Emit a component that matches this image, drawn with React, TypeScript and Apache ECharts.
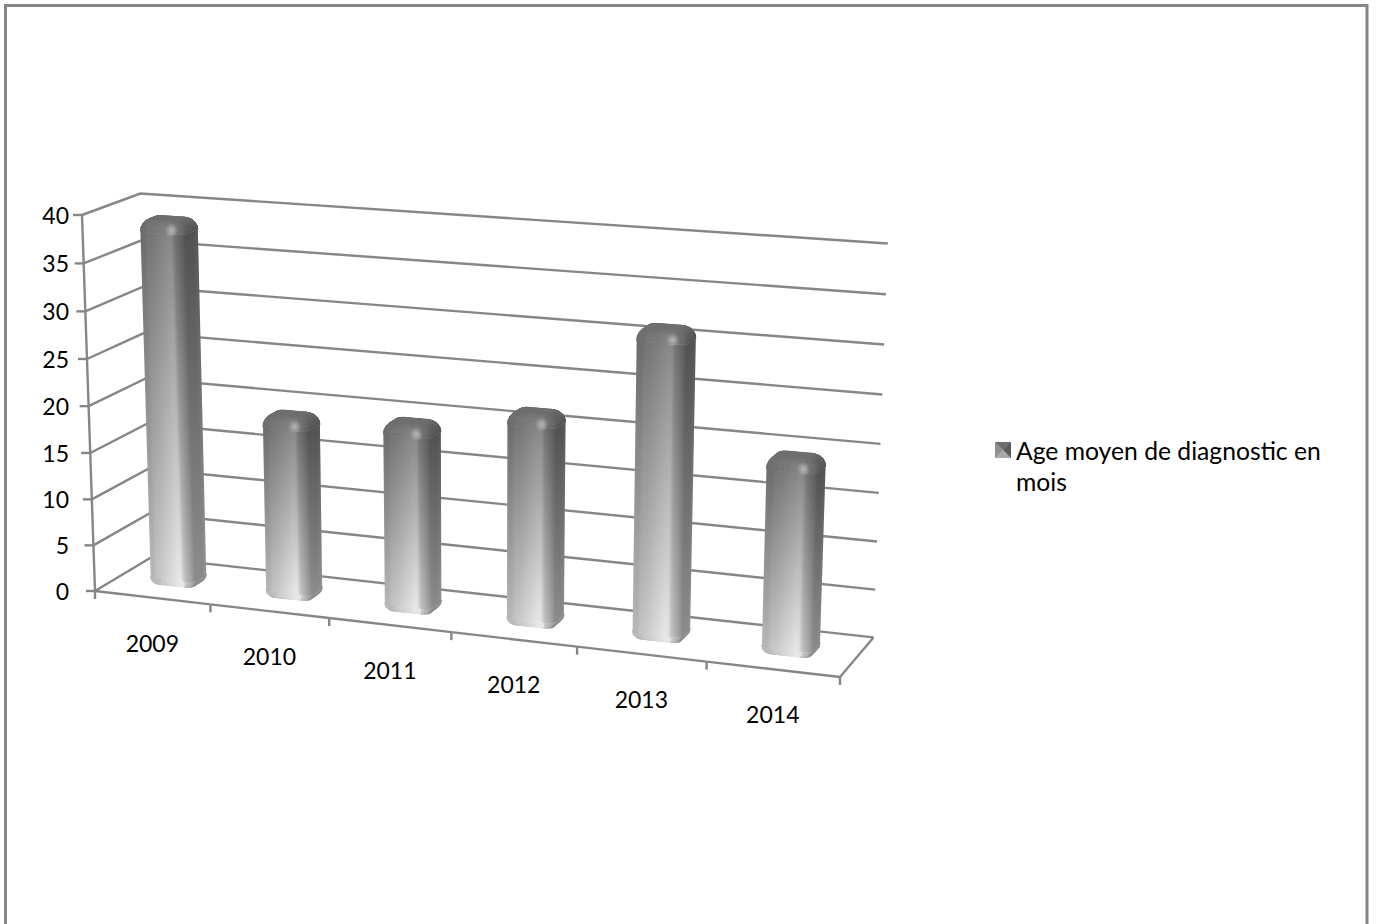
import React, { useEffect, useRef } from "react";
import * as echarts from "echarts";

const categories = ["2009", "2010", "2011", "2012", "2013", "2014"];
const meanAge = [39.1, 19.6, 20, 22.2, 31.8, 20.1];
const yTicks = [0, 5, 10, 15, 20, 25, 30, 35, 40];
const seriesName = "Age moyen de diagnostic en mois";

const GRID = { left: 95, top: 215, width: 745, height: 376 };
const FONT = "Lato, 'Noto Sans', sans-serif";
const LINE = "#868686";

// Projective box: unit axes seen from the origin at the front-left floor corner.
const AXIS_U = [745, 86];
const AXIS_V = [-13, -376];
const AXIS_W = [56, -33.5];
const WEIGHT_U = 0.917;
const WEIGHT_V = 0.967;
const WEIGHT_W = 1.035;

function project(px: number, py: number, w: number): [number, number] {
  const u = (px - GRID.left) / GRID.width;
  const v = (GRID.top + GRID.height - py) / GRID.height;
  const d = 1 + u * (WEIGHT_U - 1) + v * (WEIGHT_V - 1) + w * (WEIGHT_W - 1);
  const x = (u * WEIGHT_U * AXIS_U[0] + v * WEIGHT_V * AXIS_V[0] + w * WEIGHT_W * AXIS_W[0]) / d;
  const y = (u * WEIGHT_U * AXIS_U[1] + v * WEIGHT_V * AXIS_V[1] + w * WEIGHT_W * AXIS_W[1]) / d;
  return [GRID.left + x, GRID.top + GRID.height + y];
}

const gray = (l: number) => {
  const c = Math.max(0, Math.min(255, Math.round(l)));
  return `rgb(${c},${c},${c})`;
};
const lerp = (a: number, b: number, t: number) => a + (b - a) * t;

// Outline of a rounded rectangle, with the same number of points for every size.
function roundedOutline(a: number, b: number, ra: number, rb: number) {
  const pts: [number, number][] = [];
  const arc = (cx: number, cy: number, from: number) => {
    for (let i = 1; i <= 5; i++) {
      const t = from + (i / 5) * (Math.PI / 2);
      pts.push([cx + ra * Math.sin(t), cy - rb * Math.cos(t)]);
    }
  };
  const straight = (x0: number, y0: number, x1: number, y1: number, n: number) => {
    for (let i = 1; i <= n; i++) pts.push([lerp(x0, x1, i / n), lerp(y0, y1, i / n)]);
  };
  pts.push([-a + ra, -b]);
  straight(-a + ra, -b, a - ra, -b, 10);
  arc(a - ra, -b + rb, 0);
  straight(a, -b + rb, a, b - rb, 3);
  arc(a - ra, b - rb, Math.PI / 2);
  straight(a - ra, b, -a + ra, b, 3);
  arc(-a + ra, b - rb, Math.PI);
  straight(-a, b - rb, -a, -b + rb, 3);
  arc(-a + ra, -b + rb, (3 * Math.PI) / 2);
  return pts;
}

// Brightness of a facet from its facing direction and its place across the bar.
function facetShade(phi: number, duN: number) {
  if (Math.abs(phi) < 1) {
    if (duN < -0.3) return lerp(0.84, 0.93, (duN + 1) / 0.7);
    if (duN < 0.5) return lerp(0.93, 1.07, (duN + 0.3) / 0.8);
    return lerp(1.07, 0.93, (duN - 0.5) / 0.5);
  }
  if (phi > 0 && phi < 89) return lerp(0.93, 0.63, phi / 90);
  if (phi >= 89 && phi <= 91) return 0.64;
  if (phi > 91) return 0.68;
  if (phi < 0 && phi > -91) return lerp(0.84, 0.86, -phi / 90);
  return 0.7;
}

function renderBar(params: any, api: any) {
  const idx = api.value(0);
  const [bandCentre, top] = api.coord([idx, api.value(1)]);
  const [, base] = api.coord([idx, 0]);
  const band = api.size([1, 0])[0];

  const cx = bandCentre + 1.5;
  const a = band * 0.195;
  const b = 0.15;
  const wc = 0.45;
  const ra = 9;
  const rb = 0.06;
  const capU = 10;
  const capW = 0.085;
  const capV = 12;
  const footV = 7;

  const outline = (f: number) =>
    roundedOutline(a - f * capU, b - f * capW, Math.max(ra * (1 - 0.4 * f), 1), Math.max(rb * (1 - 0.4 * f), 0.01));
  const at = (p: [number, number], py: number) => project(cx + p[0], py, wc + p[1]);

  const ref = outline(0);
  const count = ref.length;
  const segs = ref.map((p, i) => {
    const q = ref[(i + 1) % count];
    const tu = (q[0] - p[0]) / a;
    const tw = (q[1] - p[1]) / b;
    const phi = (Math.atan2(tw, tu) * 180) / Math.PI;
    return { i, j: (i + 1) % count, phi, duN: (p[0] + q[0]) / 2 / a, dwN: (p[1] + q[1]) / 2 / b };
  });
  const byDepth = [...segs].sort((s, t) => t.dwN - s.dwN);
  const visible = byDepth.filter((s) => s.dwN < 0.05 || s.duN > 0);

  const topL = 126;
  const bottomL = 218;
  const children: any[] = [];
  const quad = (points: number[][], fill: any) =>
    children.push({
      type: "polygon",
      silent: true,
      shape: { points },
      style: { fill, stroke: fill, lineWidth: 0.7 },
    });

  // Foot of the bar, rounded inward towards the floor.
  const footSteps = 3;
  for (let k = 0; k < footSteps; k++) {
    const t0 = (k / footSteps) * (Math.PI / 2);
    const t1 = ((k + 1) / footSteps) * (Math.PI / 2);
    const r0 = outline(0.55 * (1 - Math.cos(t0)));
    const r1 = outline(0.55 * (1 - Math.cos(t1)));
    const y0 = base - footV * (1 - Math.sin(t0));
    const y1 = base - footV * (1 - Math.sin(t1));
    for (const s of visible) {
      quad(
        [at(r0[s.i], y0), at(r0[s.j], y0), at(r1[s.j], y1), at(r1[s.i], y1)],
        gray(bottomL * facetShade(s.phi, s.duN)),
      );
    }
  }

  // Shaft: one silhouette with its shading across, and a dark veil fading towards the floor.
  const shaftTop = top + capV;
  const shaftBottom = base - footV;
  const sequence = [34, 35, 36, 37, 38, 39, ...Array.from({ length: 23 }, (_, k) => k + 1)];
  const lean0 = at(ref[39], shaftTop);
  const lean1 = at(ref[39], shaftBottom);
  let gx = lean1[1] - lean0[1];
  let gy = lean0[0] - lean1[0];
  const gLen = Math.hypot(gx, gy);
  gx /= gLen;
  gy /= gLen;
  const across = sequence.map((i) => {
    const p = at(ref[i], shaftBottom);
    return p[0] * gx + p[1] * gy;
  });
  const first = across.indexOf(Math.min(...across));
  const last = across.indexOf(Math.max(...across));
  const path = sequence.slice(first, last + 1);
  const dMin = across[first];
  const dMax = across[last];
  const anchor = at(ref[path[0]], shaftBottom);
  const span = dMax - dMin;
  const outlinePts = [...path.map((i) => at(ref[i], shaftTop)), ...[...path].reverse().map((i) => at(ref[i], shaftBottom))];
  const stops = path.map((i, n) => ({
    offset: Math.max(0, Math.min(1, (across[first + n] - dMin) / span)),
    color: gray(bottomL * facetShade(segs[i].phi, segs[i].duN)),
  }));
  children.push({
    type: "polygon",
    silent: true,
    shape: { points: outlinePts },
    style: {
      fill: {
        type: "linear",
        global: true,
        x: anchor[0],
        y: anchor[1],
        x2: anchor[0] + gx * span,
        y2: anchor[1] + gy * span,
        colorStops: stops,
      },
    },
  });
  children.push({
    type: "polygon",
    silent: true,
    shape: { points: outlinePts },
    style: {
      fill: {
        type: "linear",
        x: 0,
        y: 0,
        x2: 0,
        y2: 1,
        colorStops: [
          { offset: 0, color: `rgba(0,0,0,${(1 - topL / bottomL).toFixed(3)})` },
          { offset: 1, color: "rgba(0,0,0,0)" },
        ],
      },
    },
  });

  // Bevelled cap, back facets first so the front ones lie over them.
  const capSteps = 5;
  const capFlat = 110;
  for (let k = 0; k < capSteps; k++) {
    const t0 = (k / capSteps) * (Math.PI / 2);
    const t1 = ((k + 1) / capSteps) * (Math.PI / 2);
    const r0 = outline(1 - Math.cos(t0));
    const r1 = outline(1 - Math.cos(t1));
    const y0 = top + capV * (1 - Math.sin(t0));
    const y1 = top + capV * (1 - Math.sin(t1));
    const e = (k + 0.5) / capSteps;
    for (const s of byDepth) {
      const body = topL * facetShade(s.phi, s.duN);
      const glow = 4 * Math.sin(Math.PI * e) * (Math.abs(s.phi) < 60 ? 1 : 0.2);
      quad(
        [at(r0[s.i], y0), at(r0[s.j], y0), at(r1[s.j], y1), at(r1[s.i], y1)],
        gray(lerp(body, capFlat, e) + glow),
      );
    }
  }
  quad(
    outline(1).map((p) => at(p, top)),
    gray(capFlat),
  );

  // Small specular spot on the front of the cap.
  const spot = project(cx + a * 0.48, top + 8, wc - b);
  children.push({
    type: "circle",
    silent: true,
    shape: { cx: spot[0], cy: spot[1], r: 7 },
    style: {
      fill: {
        type: "radial",
        x: 0.5,
        y: 0.5,
        r: 0.5,
        colorStops: [
          { offset: 0, color: "rgba(255,255,255,0.4)" },
          { offset: 1, color: "rgba(255,255,255,0)" },
        ],
      },
    },
  });

  return { type: "group", children };
}

const stroke = { stroke: LINE, lineWidth: 2.4, fill: "none" };
const polyline = (points: number[][]) => ({ type: "polyline", silent: true, shape: { points }, style: stroke });

// One gridline across both walls, its tick and its label.
function renderValueLevel(params: any, api: any) {
  const value = api.value(1);
  const band = api.size([1, 0])[0];
  const [x0, y] = api.coord([0, value]);
  const [x1] = api.coord([categories.length - 1, value]);
  const left = x0 - band / 2;
  const right = x1 + band / 2;
  const front = project(left, y, 0);
  const corner = project(left, y, 1);
  const end = project(right, y, 1);
  const children: any[] = [
    polyline([front, corner, end]),
    polyline([[front[0] - 9, front[1]], front]),
    {
      type: "text",
      silent: true,
      style: {
        x: 69,
        y: front[1],
        text: String(value),
        font: `23px ${FONT}`,
        fill: "#000",
        align: "right",
        verticalAlign: "middle",
      },
    },
  ];
  if (value === yTicks[yTicks.length - 1]) {
    const [, y0] = api.coord([0, 0]);
    const foot = project(left, y0, 0);
    children.push(polyline([front, foot, [foot[0], foot[1] + 8]]));
  }
  return { type: "group", children };
}

// Floor edges, category ticks and year labels.
function renderCategory(params: any, api: any) {
  const idx = api.value(0);
  const band = api.size([1, 0])[0];
  const [cx, y] = api.coord([idx, 0]);
  const p0 = project(cx - band / 2, y, 0);
  const p1 = project(cx + band / 2, y, 0);
  const mid = project(cx, y, 0);
  const children: any[] = [
    polyline([p0, p1]),
    polyline([p1, [p1[0], p1[1] + 8]]),
    {
      type: "text",
      silent: true,
      style: {
        x: mid[0],
        y: mid[1] + 45,
        text: categories[idx],
        font: `23px ${FONT}`,
        fill: "#000",
        align: "center",
        verticalAlign: "middle",
      },
    },
  ];
  if (idx === categories.length - 1) children.push(polyline([p1, project(cx + band / 2, y, 1)]));
  return { type: "group", children };
}

const legendFill = {
  type: "linear",
  x: 0,
  y: 0,
  x2: 1,
  y2: 1,
  colorStops: [
    { offset: 0, color: "#8a8a8a" },
    { offset: 0.55, color: "#a8a8a8" },
    { offset: 1, color: "#5c5c5c" },
  ],
};

// Legend key drawn as a small bevelled square over the legend's own rectangle.
const KEY = { x: 995, y: 442, size: 16 };
const keyFacets: [string, number[][]][] = [
  ["#6e6e6e", [[0, 0], [1, 0], [0.5, 0.5]]],
  ["#5a5a5a", [[1, 0], [1, 1], [0.5, 0.5]]],
  ["#a9a9a9", [[1, 1], [0, 1], [0.5, 0.5]]],
  ["#8f8f8f", [[0, 1], [0, 0], [0.5, 0.5]]],
];

export default function App() {
  const ref = useRef<HTMLDivElement>(null);
  useEffect(() => {
    const chart = echarts.init(ref.current!, undefined, { renderer: "svg" });
    chart.setOption({
      animation: false,
      backgroundColor: "#fff",
      grid: GRID,
      xAxis: { type: "category", data: categories, show: false },
      yAxis: { type: "value", min: 0, max: 40, interval: 5, show: false },
      legend: {
        show: true,
        left: KEY.x,
        top: 403.5,
        orient: "vertical",
        selectedMode: false,
        data: [{ name: seriesName, icon: "rect", itemStyle: { color: legendFill } }],
        itemWidth: KEY.size,
        itemHeight: KEY.size,
        padding: 0,
        formatter: () => "\nAge moyen de diagnostic en\nmois",
        textStyle: { fontFamily: FONT, fontSize: 24.7, lineHeight: 31, color: "#000" },
      },
      graphic: [
        {
          type: "rect",
          silent: true,
          shape: { x: 5.5, y: 5.5, width: 1361.5, height: 940 },
          style: { fill: "none", stroke: LINE, lineWidth: 3 },
        },
        ...keyFacets.map(([fill, pts]) => ({
          type: "polygon",
          silent: true,
          z: 10,
          shape: { points: pts.map(([px, py]) => [KEY.x + px * KEY.size, KEY.y + py * KEY.size]) },
          style: { fill },
        })),
      ],
      series: [
        {
          type: "custom",
          name: "levels",
          coordinateSystem: "cartesian2d",
          silent: true,
          renderItem: renderValueLevel,
          data: yTicks.map((v) => [0, v]),
          encode: { x: 0, y: 1 },
        },
        {
          type: "custom",
          name: "floor",
          coordinateSystem: "cartesian2d",
          silent: true,
          renderItem: renderCategory,
          data: categories.map((_, i) => [i, 0]),
          encode: { x: 0, y: 1 },
        },
        {
          type: "custom",
          name: seriesName,
          coordinateSystem: "cartesian2d",
          silent: true,
          itemStyle: { color: legendFill },
          renderItem: renderBar,
          data: meanAge.map((v, i) => [i, v]),
          encode: { x: 0, y: 1 },
        },
      ],
    });
    return () => chart.dispose();
  }, []);
  return <div ref={ref} style={{ position: "absolute", left: 0, top: 0, width: 1376, height: 924 }} />;
}
